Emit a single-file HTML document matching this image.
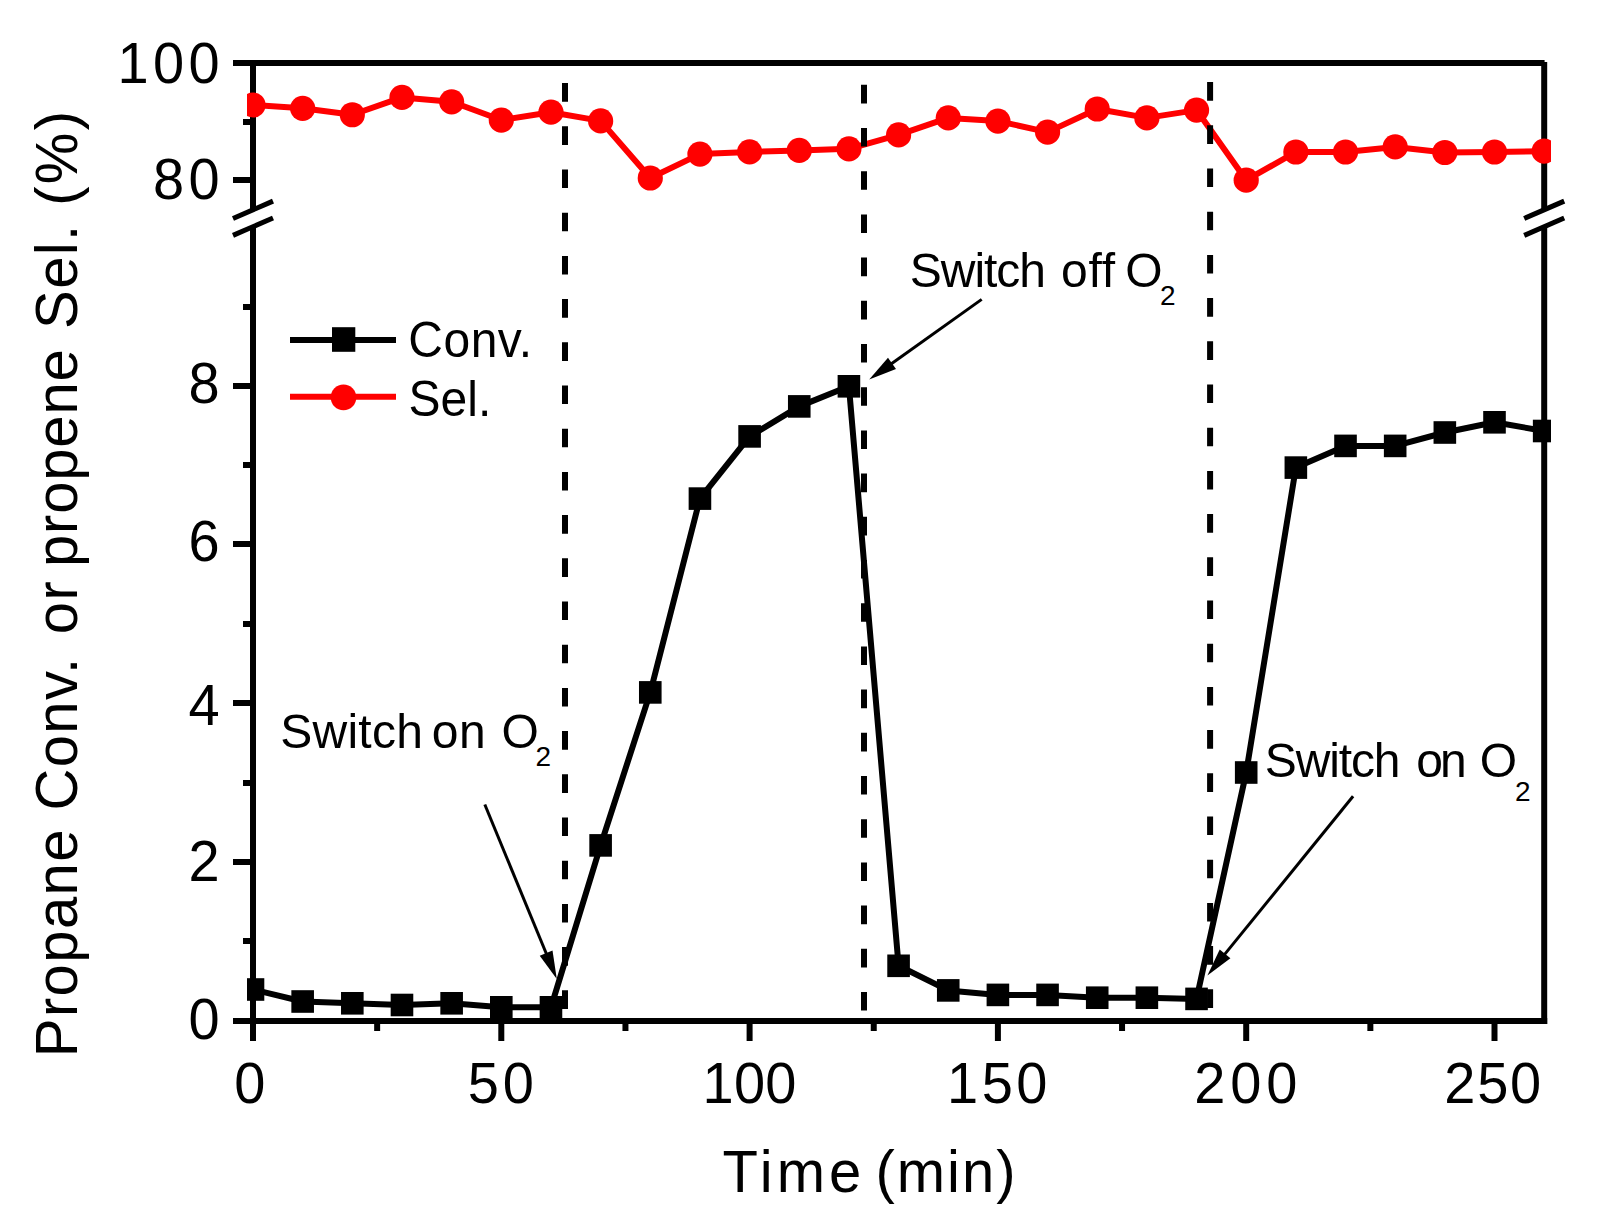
<!DOCTYPE html>
<html lang="en">
<head>
<meta charset="utf-8">
<title>Propane conversion and propene selectivity vs time</title>
<style>
html,body{margin:0;padding:0;background:#fff;}
body{width:1603px;height:1224px;overflow:hidden;}
svg{display:block;}
text{font-family:"Liberation Sans",sans-serif;fill:#000;}
.tick{font-size:56px;}
.title{font-size:58px;}
.ann{font-size:48px;}
.sub{font-size:28px;}
</style>
</head>
<body>
<svg width="1603" height="1224" viewBox="0 0 1603 1224">
<rect x="0" y="0" width="1603" height="1224" fill="#ffffff"/>
<defs>
<clipPath id="plotclip"><rect x="247" y="50" width="1304" height="980"/></clipPath>
</defs>

<g stroke="#000" stroke-width="6" fill="none" stroke-linecap="butt">
<line x1="233" y1="63.0" x2="1544.6000000000001" y2="63.0"/>
<line x1="233" y1="1021.0" x2="1547.2" y2="1021.0"/>
<line x1="253.0" y1="60.0" x2="253.0" y2="209.8"/>
<line x1="253.0" y1="226.7" x2="253.0" y2="1041"/>
<line x1="1544.2" y1="62.0" x2="1544.2" y2="209.8"/>
<line x1="1544.2" y1="226.7" x2="1544.2" y2="1024.0"/>
<line x1="233" y1="180" x2="253.0" y2="180"/>
<line x1="233" y1="386" x2="253.0" y2="386"/>
<line x1="233" y1="544" x2="253.0" y2="544"/>
<line x1="233" y1="703" x2="253.0" y2="703"/>
<line x1="233" y1="862" x2="253.0" y2="862"/>
<line x1="243" y1="122" x2="253.0" y2="122"/>
<line x1="243" y1="307" x2="253.0" y2="307"/>
<line x1="243" y1="465" x2="253.0" y2="465"/>
<line x1="243" y1="624" x2="253.0" y2="624"/>
<line x1="243" y1="783" x2="253.0" y2="783"/>
<line x1="243" y1="941" x2="253.0" y2="941"/>
<line x1="501.3" y1="1021.0" x2="501.3" y2="1041"/>
<line x1="749.6" y1="1021.0" x2="749.6" y2="1041"/>
<line x1="997.9" y1="1021.0" x2="997.9" y2="1041"/>
<line x1="1246.2" y1="1021.0" x2="1246.2" y2="1041"/>
<line x1="1494.5" y1="1021.0" x2="1494.5" y2="1041"/>
<line x1="377.15" y1="1021.0" x2="377.15" y2="1031"/>
<line x1="625.45" y1="1021.0" x2="625.45" y2="1031"/>
<line x1="873.75" y1="1021.0" x2="873.75" y2="1031"/>
<line x1="1122.05" y1="1021.0" x2="1122.05" y2="1031"/>
<line x1="1370.35" y1="1021.0" x2="1370.35" y2="1031"/>
</g>
<g stroke="#000" stroke-width="5" fill="none">
<line x1="233.0" y1="218.5" x2="273.0" y2="201.10000000000002"/>
<line x1="233.0" y1="235.39999999999998" x2="273.0" y2="218.0"/>
<line x1="1524.2" y1="218.5" x2="1564.2" y2="201.10000000000002"/>
<line x1="1524.2" y1="235.39999999999998" x2="1564.2" y2="218.0"/>
</g>
<g clip-path="url(#plotclip)">
<polyline points="253.0,989.5 302.66,1001.5 352.32,1003.3 401.98,1005.0 451.64,1003.3 501.3,1007.3 550.96,1007.3 600.62,845.4 650.28,692.4 699.94,498.6 749.6,436.4 799.26,406.4 848.92,386.3 898.58,965.8 948.24,990.4 997.9,994.9 1047.56,994.9 1097.22,997.7 1146.88,997.7 1196.54,998.9 1246.2,772.5 1295.86,467.6 1345.52,445.9 1395.18,445.9 1444.84,432.5 1494.5,422.3 1544.16,431.0" fill="none" stroke="#000" stroke-width="6" stroke-linejoin="round"/>
<rect x="241.70" y="978.20" width="22.6" height="22.6" fill="#000"/>
<rect x="291.36" y="990.20" width="22.6" height="22.6" fill="#000"/>
<rect x="341.02" y="992.00" width="22.6" height="22.6" fill="#000"/>
<rect x="390.68" y="993.70" width="22.6" height="22.6" fill="#000"/>
<rect x="440.34" y="992.00" width="22.6" height="22.6" fill="#000"/>
<rect x="490.00" y="996.00" width="22.6" height="22.6" fill="#000"/>
<rect x="539.66" y="996.00" width="22.6" height="22.6" fill="#000"/>
<rect x="589.32" y="834.10" width="22.6" height="22.6" fill="#000"/>
<rect x="638.98" y="681.10" width="22.6" height="22.6" fill="#000"/>
<rect x="688.64" y="487.30" width="22.6" height="22.6" fill="#000"/>
<rect x="738.30" y="425.10" width="22.6" height="22.6" fill="#000"/>
<rect x="787.96" y="395.10" width="22.6" height="22.6" fill="#000"/>
<rect x="837.62" y="375.00" width="22.6" height="22.6" fill="#000"/>
<rect x="887.28" y="954.50" width="22.6" height="22.6" fill="#000"/>
<rect x="936.94" y="979.10" width="22.6" height="22.6" fill="#000"/>
<rect x="986.60" y="983.60" width="22.6" height="22.6" fill="#000"/>
<rect x="1036.26" y="983.60" width="22.6" height="22.6" fill="#000"/>
<rect x="1085.92" y="986.40" width="22.6" height="22.6" fill="#000"/>
<rect x="1135.58" y="986.40" width="22.6" height="22.6" fill="#000"/>
<rect x="1185.24" y="987.60" width="22.6" height="22.6" fill="#000"/>
<rect x="1234.90" y="761.20" width="22.6" height="22.6" fill="#000"/>
<rect x="1284.56" y="456.30" width="22.6" height="22.6" fill="#000"/>
<rect x="1334.22" y="434.60" width="22.6" height="22.6" fill="#000"/>
<rect x="1383.88" y="434.60" width="22.6" height="22.6" fill="#000"/>
<rect x="1433.54" y="421.20" width="22.6" height="22.6" fill="#000"/>
<rect x="1483.20" y="411.00" width="22.6" height="22.6" fill="#000"/>
<rect x="1532.86" y="419.70" width="22.6" height="22.6" fill="#000"/>
<polyline points="253.0,105.0 302.66,108.3 352.32,114.75 401.98,97.4 451.64,101.8 501.3,120.05 550.96,112.2 600.62,120.9 650.28,178.0 699.94,154.1 749.6,151.9 799.26,150.4 848.92,148.8 898.58,134.9 948.24,117.9 997.9,121.1 1047.56,132.1 1097.22,109.0 1146.88,117.9 1196.54,110.1 1246.2,180.2 1295.86,152.0 1345.52,152.0 1395.18,146.9 1444.84,152.5 1494.5,152.0 1544.16,151.2" fill="none" stroke="#ff0000" stroke-width="6" stroke-linejoin="round"/>
<circle cx="253.0" cy="105.0" r="12.6" fill="#ff0000"/>
<circle cx="302.66" cy="108.3" r="12.6" fill="#ff0000"/>
<circle cx="352.32" cy="114.75" r="12.6" fill="#ff0000"/>
<circle cx="401.98" cy="97.4" r="12.6" fill="#ff0000"/>
<circle cx="451.64" cy="101.8" r="12.6" fill="#ff0000"/>
<circle cx="501.3" cy="120.05" r="12.6" fill="#ff0000"/>
<circle cx="550.96" cy="112.2" r="12.6" fill="#ff0000"/>
<circle cx="600.62" cy="120.9" r="12.6" fill="#ff0000"/>
<circle cx="650.28" cy="178.0" r="12.6" fill="#ff0000"/>
<circle cx="699.94" cy="154.1" r="12.6" fill="#ff0000"/>
<circle cx="749.6" cy="151.9" r="12.6" fill="#ff0000"/>
<circle cx="799.26" cy="150.4" r="12.6" fill="#ff0000"/>
<circle cx="848.92" cy="148.8" r="12.6" fill="#ff0000"/>
<circle cx="898.58" cy="134.9" r="12.6" fill="#ff0000"/>
<circle cx="948.24" cy="117.9" r="12.6" fill="#ff0000"/>
<circle cx="997.9" cy="121.1" r="12.6" fill="#ff0000"/>
<circle cx="1047.56" cy="132.1" r="12.6" fill="#ff0000"/>
<circle cx="1097.22" cy="109.0" r="12.6" fill="#ff0000"/>
<circle cx="1146.88" cy="117.9" r="12.6" fill="#ff0000"/>
<circle cx="1196.54" cy="110.1" r="12.6" fill="#ff0000"/>
<circle cx="1246.2" cy="180.2" r="12.6" fill="#ff0000"/>
<circle cx="1295.86" cy="152.0" r="12.6" fill="#ff0000"/>
<circle cx="1345.52" cy="152.0" r="12.6" fill="#ff0000"/>
<circle cx="1395.18" cy="146.9" r="12.6" fill="#ff0000"/>
<circle cx="1444.84" cy="152.5" r="12.6" fill="#ff0000"/>
<circle cx="1494.5" cy="152.0" r="12.6" fill="#ff0000"/>
<circle cx="1544.16" cy="151.2" r="12.6" fill="#ff0000"/>
</g>
<g stroke="#000" stroke-width="6" fill="none" stroke-dasharray="18.6 24.6">
<line x1="565" y1="83.1" x2="565" y2="1018"/>
<line x1="864" y1="84.8" x2="864" y2="1018"/>
<line x1="1210.1" y1="82.1" x2="1210.1" y2="1018"/>
</g>
<line x1="290" y1="340" x2="396" y2="340" stroke="#000" stroke-width="6"/>
<rect x="332" y="327.2" width="23.3" height="24.6" fill="#000"/>
<line x1="290" y1="396.8" x2="396" y2="396.8" stroke="#ff0000" stroke-width="6"/>
<circle cx="343.5" cy="397.4" r="12.8" fill="#ff0000"/>
<line x1="484.8" y1="804.5" x2="546.88" y2="954.97" stroke="#000" stroke-width="3"/><polygon points="556.8,979.0 539.74,955.75 552.50,950.48" fill="#000"/>
<line x1="981.7" y1="299.4" x2="890.37" y2="364.51" stroke="#000" stroke-width="3"/><polygon points="869.2,379.6 887.99,357.73 896.00,368.96" fill="#000"/>
<line x1="1353.1" y1="796.3" x2="1223.80" y2="955.33" stroke="#000" stroke-width="3"/><polygon points="1207.4,975.5 1219.71,949.42 1230.42,958.13" fill="#000"/>
<text id="lg1" class="ann" transform="translate(408.3 356.7) scale(1 1.035)" letter-spacing="0.5">Conv.</text>
<text id="lg2" class="ann" transform="translate(408.6 415.7) scale(1 1.035)">Sel.</text>
<text id="an1" class="ann" transform="translate(280.3 747.7) scale(1 1.02)"><tspan letter-spacing="0.25">Switch</tspan> <tspan dx="-4.8" letter-spacing="0.7">on</tspan> <tspan dx="1.6">O</tspan><tspan class="sub" dx="-3.3" dy="17.6" letter-spacing="0">2</tspan></text>
<text id="an2" class="ann" transform="translate(909.8 286.8) scale(1 1.02)" letter-spacing="-0.5"><tspan letter-spacing="-1.03">Switch</tspan> <tspan dx="3.2" letter-spacing="0.85">off</tspan> <tspan dx="-3.6">O</tspan><tspan class="sub" dx="-2.0" dy="18.0" letter-spacing="0">2</tspan></text>
<text id="an3" class="ann" transform="translate(1264.8 776.9) scale(1 1.02)" letter-spacing="-0.6"><tspan letter-spacing="-1.13">Switch</tspan> <tspan dx="4.1" letter-spacing="-2.9">on</tspan> <tspan dx="3.2">O</tspan><tspan class="sub" dx="-1.6" dy="23.4" letter-spacing="0">2</tspan></text>
<text id="y100" class="tick" transform="translate(223.9 83.0) scale(1 1.041)" text-anchor="end" letter-spacing="4.3">100</text>
<text id="y80" class="tick" transform="translate(223.9 199.4) scale(1 1.041)" text-anchor="end" letter-spacing="4.3">80</text>
<text id="y8" class="tick" transform="translate(223.9 403.1) scale(1 1.041)" text-anchor="end" letter-spacing="4.3">8</text>
<text id="y6" class="tick" transform="translate(223.9 560.8) scale(1 1.041)" text-anchor="end" letter-spacing="4.3">6</text>
<text id="y4" class="tick" transform="translate(223.9 724.6) scale(1 1.041)" text-anchor="end" letter-spacing="4.3">4</text>
<text id="y2" class="tick" transform="translate(223.9 881.4) scale(1 1.041)" text-anchor="end" letter-spacing="4.3">2</text>
<text id="y0" class="tick" transform="translate(223.9 1039.0) scale(1 1.041)" text-anchor="end" letter-spacing="4.3">0</text>
<text id="x0" class="tick" transform="translate(249.9 1103.3) scale(1 1.041)" text-anchor="middle">0</text>
<text id="x50" class="tick" transform="translate(502.7 1103.3) scale(1 1.041)" text-anchor="middle" letter-spacing="3.8">50</text>
<text id="x100" class="tick" transform="translate(749.6 1103.3) scale(1 1.041)" text-anchor="middle" letter-spacing="0.3">100</text>
<text id="x150" class="tick" transform="translate(999.0 1103.3) scale(1 1.041)" text-anchor="middle" letter-spacing="3.45">150</text>
<text id="x200" class="tick" transform="translate(1248.2 1103.3) scale(1 1.041)" text-anchor="middle" letter-spacing="4.9">200</text>
<text id="x250" class="tick" transform="translate(1493.6 1103.3) scale(1 1.041)" text-anchor="middle" letter-spacing="1.75">250</text>
<text id="xt" class="title" transform="translate(722.5 1191.7) scale(1 1.03)" letter-spacing="2.03"><tspan letter-spacing="4.0">Time</tspan> <tspan dx="-7.9">(min)</tspan></text>
<text id="yt" class="title" transform="translate(76.9 1057.2) rotate(-90) scale(1 1.03)" letter-spacing="1.41">Propane Conv. <tspan dx="4.7">or</tspan> <tspan dx="-4.7" letter-spacing="0.81">propene</tspan> <tspan dx="2">Sel.</tspan> <tspan letter-spacing="2.41">(%)</tspan></text>
</svg>
</body>
</html>
